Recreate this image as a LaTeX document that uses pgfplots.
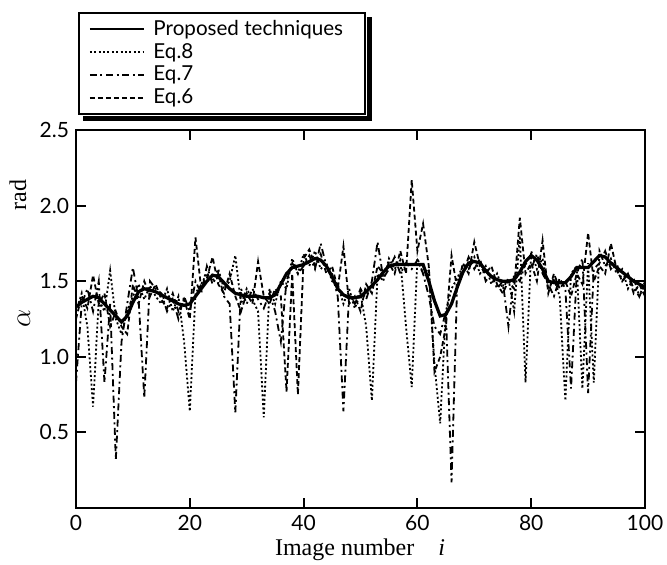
\documentclass[border=0pt]{standalone}
\usepackage{fontspec}
\setmainfont{Liberation Serif}
\setsansfont{Lato}
\usepackage{pgfplots}
\pgfplotsset{compat=1.18}
\begin{document}
\begin{tikzpicture}
\useasboundingbox (-38pt,-28.5pt) rectangle (295.5pt,254pt);
\begin{axis}[
  scale only axis, width=284.5pt, height=189pt,
  xmin=0, xmax=100, ymin=0, ymax=2.5,
  xtick={0,20,40,60,80,100},
  ytick={0.5,1.0,1.5,2.0,2.5},
  yticklabel style={/pgf/number format/.cd,fixed,fixed zerofill,precision=1},
  /pgf/number format/assume math mode=true,
  tick label style={font=\sffamily\fontsize{10.5}{12}\selectfont},
  tick align=inside, major tick length=5pt,
  every tick/.style={line width=1pt,black},
  axis line style={line width=1pt},
  xtick pos=both, ytick pos=both,
  legend cell align=left,
  legend style={at={(rel axis cs:0.0035,1.312)}, anchor=north west, name=leg,
    draw=black, line width=1pt, fill=white,
    font=\sffamily\fontsize{10.3}{11.7}\selectfont,
    row sep=-1.5pt, inner xsep=5pt, inner ysep=1.5pt},
  legend image code/.code={\draw[#1, line width=0.9pt] (0pt,0pt) -- (27pt,0pt); \path (29pt,0pt);},
]
\addlegendimage{black, line width=1.6pt}
\addlegendentry{Proposed techniques\hspace*{4pt}}
\addlegendimage{black, dash pattern=on 1pt off 1.2pt}
\addlegendentry{Eq.8}
\addlegendimage{black, dash pattern=on 3.5pt off 1.8pt on 1pt off 1.8pt}
\addlegendentry{Eq.7}
\addlegendimage{black, dash pattern=on 2.5pt off 1.5pt}
\addlegendentry{Eq.6}

% Eq.8 (dotted)
\addplot[forget plot, black, line width=0.9pt, dash pattern=on 1pt off 1.2pt] coordinates {
(0,1.30)(1,1.42)(2,1.20)(3,0.67)(4,1.38)(5,1.30)(6,1.57)(7,1.25)(8,1.15)(9,1.30)
(10,1.40)(11,1.48)(12,1.38)(13,1.47)(14,1.40)(15,1.35)(16,1.45)(17,1.30)(18,1.40)(19,1.10)
(20,0.64)(21,1.42)(22,1.48)(23,1.55)(24,1.50)(25,1.58)(26,1.45)(27,1.50)(28,1.67)(29,1.35)
(30,1.45)(31,1.38)(32,1.30)(33,0.60)(34,1.45)(35,1.35)(36,1.50)(37,1.45)(38,1.65)(39,1.55)
(40,1.68)(41,1.60)(42,1.70)(43,1.58)(44,1.62)(45,1.50)(46,1.48)(47,1.35)(48,1.45)(49,1.32)
(50,1.42)(51,1.20)(52,0.71)(53,1.55)(54,1.50)(55,1.65)(56,1.58)(57,1.64)(58,1.20)(59,0.80)
(60,1.65)(61,1.55)(62,1.58)(63,0.95)(64,0.56)(65,1.30)(66,1.45)(67,1.52)(68,1.60)(69,1.58)
(70,1.66)(71,1.55)(72,1.60)(73,1.48)(74,1.55)(75,1.45)(76,1.52)(77,1.30)(78,1.80)(79,0.83)
(80,1.70)(81,1.58)(82,1.65)(83,1.45)(84,1.52)(85,1.40)(86,0.71)(87,1.55)(88,1.60)(89,0.79)
(90,1.62)(91,0.83)(92,1.70)(93,1.60)(94,1.65)(95,1.55)(96,1.58)(97,1.45)(98,1.52)(99,1.40)
(100,1.50)};

% Eq.7 (dash-dot)
\addplot[forget plot, black, line width=0.9pt, dash pattern=on 3.5pt off 1.8pt on 1pt off 1.8pt] coordinates {
(0,0.83)(1,1.35)(2,1.45)(3,1.30)(4,1.50)(5,0.83)(6,1.35)(7,0.32)(8,1.10)(9,1.35)
(10,1.59)(11,1.38)(12,0.73)(13,1.50)(14,1.45)(15,1.42)(16,1.30)(17,1.38)(18,1.25)(19,1.40)
(20,1.30)(21,1.50)(22,1.42)(23,1.60)(24,1.48)(25,1.55)(26,1.40)(27,1.35)(28,0.63)(29,1.45)
(30,1.35)(31,1.45)(32,1.38)(33,1.32)(34,1.42)(35,1.30)(36,1.10)(37,1.50)(38,1.62)(39,1.55)
(40,1.60)(41,1.67)(42,1.58)(43,1.75)(44,1.60)(45,1.55)(46,1.40)(47,0.64)(48,1.42)(49,1.35)
(50,1.45)(51,1.38)(52,1.50)(53,1.76)(54,1.52)(55,1.58)(56,1.66)(57,1.55)(58,1.62)(59,1.58)
(60,1.64)(61,1.55)(62,1.40)(63,1.20)(64,1.15)(65,1.30)(66,0.17)(67,1.50)(68,1.55)(69,1.66)
(70,1.58)(71,1.65)(72,1.50)(73,1.55)(74,1.45)(75,1.50)(76,1.20)(77,1.55)(78,1.50)(79,1.62)
(80,1.58)(81,1.68)(82,1.55)(83,1.48)(84,1.40)(85,1.52)(86,1.45)(87,0.79)(88,1.55)(89,1.65)
(90,0.76)(91,1.58)(92,1.62)(93,1.70)(94,1.58)(95,1.62)(96,1.50)(97,1.55)(98,1.45)(99,1.40)
(100,1.48)};

% Eq.6 (dashed)
\addplot[forget plot, black, line width=0.9pt, dash pattern=on 2.5pt off 1.5pt] coordinates {
(0,1.25)(1,1.40)(2,1.32)(3,1.54)(4,1.35)(5,1.42)(6,1.20)(7,1.30)(8,1.20)(9,1.15)
(10,1.48)(11,1.35)(12,1.50)(13,1.40)(14,1.48)(15,1.38)(16,1.32)(17,1.42)(18,1.30)(19,1.38)
(20,1.25)(21,1.79)(22,1.45)(23,1.52)(24,1.66)(25,1.48)(26,1.42)(27,1.55)(28,1.40)(29,1.30)
(30,1.42)(31,1.35)(32,1.63)(33,1.40)(34,1.35)(35,1.45)(36,1.40)(37,0.77)(38,1.55)(39,0.75)
(40,1.65)(41,1.71)(42,1.60)(43,1.68)(44,1.55)(45,1.60)(46,1.45)(47,1.73)(48,1.35)(49,1.40)
(50,1.30)(51,1.48)(52,1.42)(53,1.60)(54,1.55)(55,1.62)(56,1.55)(57,1.70)(58,1.55)(59,2.17)
(60,1.70)(61,1.88)(62,1.60)(63,0.90)(64,1.00)(65,1.20)(66,1.67)(67,1.45)(68,1.62)(69,1.55)
(70,1.76)(71,1.60)(72,1.55)(73,1.60)(74,1.48)(75,1.42)(76,1.50)(77,1.45)(78,1.92)(79,1.55)
(80,1.62)(81,1.50)(82,1.77)(83,1.42)(84,1.55)(85,1.45)(86,1.50)(87,1.40)(88,1.55)(89,1.48)
(90,1.82)(91,1.50)(92,1.60)(93,1.55)(94,1.75)(95,1.58)(96,1.50)(97,1.55)(98,1.42)(99,1.48)
(100,1.40)};

% Proposed (solid)
\addplot[forget plot, black, line width=1.6pt] coordinates {
(0,1.33)(1,1.36)(2,1.38)(3,1.40)(4,1.39)(5,1.35)(6,1.31)(7,1.27)(8,1.23)(9,1.27)
(10,1.36)(11,1.43)(12,1.45)(13,1.44)(14,1.43)(15,1.41)(16,1.39)(17,1.37)(18,1.35)(19,1.34)
(20,1.35)(21,1.40)(22,1.45)(23,1.50)(24,1.54)(25,1.53)(26,1.49)(27,1.45)(28,1.42)(29,1.41)
(30,1.40)(31,1.40)(32,1.40)(33,1.39)(34,1.39)(35,1.41)(36,1.48)(37,1.55)(38,1.59)(39,1.60)
(40,1.61)(41,1.63)(42,1.65)(43,1.64)(44,1.60)(45,1.53)(46,1.45)(47,1.41)(48,1.39)(49,1.39)
(50,1.40)(51,1.43)(52,1.47)(53,1.51)(54,1.56)(55,1.60)(56,1.61)(57,1.61)(58,1.61)(59,1.61)
(60,1.61)(61,1.61)(62,1.50)(63,1.37)(64,1.27)(65,1.28)(66,1.35)(67,1.46)(68,1.56)(69,1.62)
(70,1.63)(71,1.62)(72,1.57)(73,1.53)(74,1.51)(75,1.50)(76,1.50)(77,1.51)(78,1.56)(79,1.63)
(80,1.67)(81,1.64)(82,1.58)(83,1.50)(84,1.49)(85,1.49)(86,1.49)(87,1.53)(88,1.59)(89,1.59)
(90,1.59)(91,1.63)(92,1.67)(93,1.66)(94,1.62)(95,1.59)(96,1.56)(97,1.53)(98,1.50)(99,1.48)
(100,1.46)};
\end{axis}
\fill[black] ([xshift=0.5pt,yshift=-2.5pt]leg.north east) rectangle ([xshift=3pt,yshift=-3pt]leg.south east);
\fill[black] ([xshift=2.5pt,yshift=-0.5pt]leg.south west) rectangle ([xshift=3pt,yshift=-3pt]leg.south east);
\node[font=\fontsize{12}{14}\selectfont] at (142pt,-21pt) {Image number\quad\textit{i}};
\node[font=\fontsize{12}{14}\selectfont, rotate=90] at (-29pt,156.5pt) {rad};
\node[font=\fontsize{14}{15}\selectfont, rotate=90] at (-26pt,95pt) {$\alpha$};
\end{tikzpicture}
\end{document}
